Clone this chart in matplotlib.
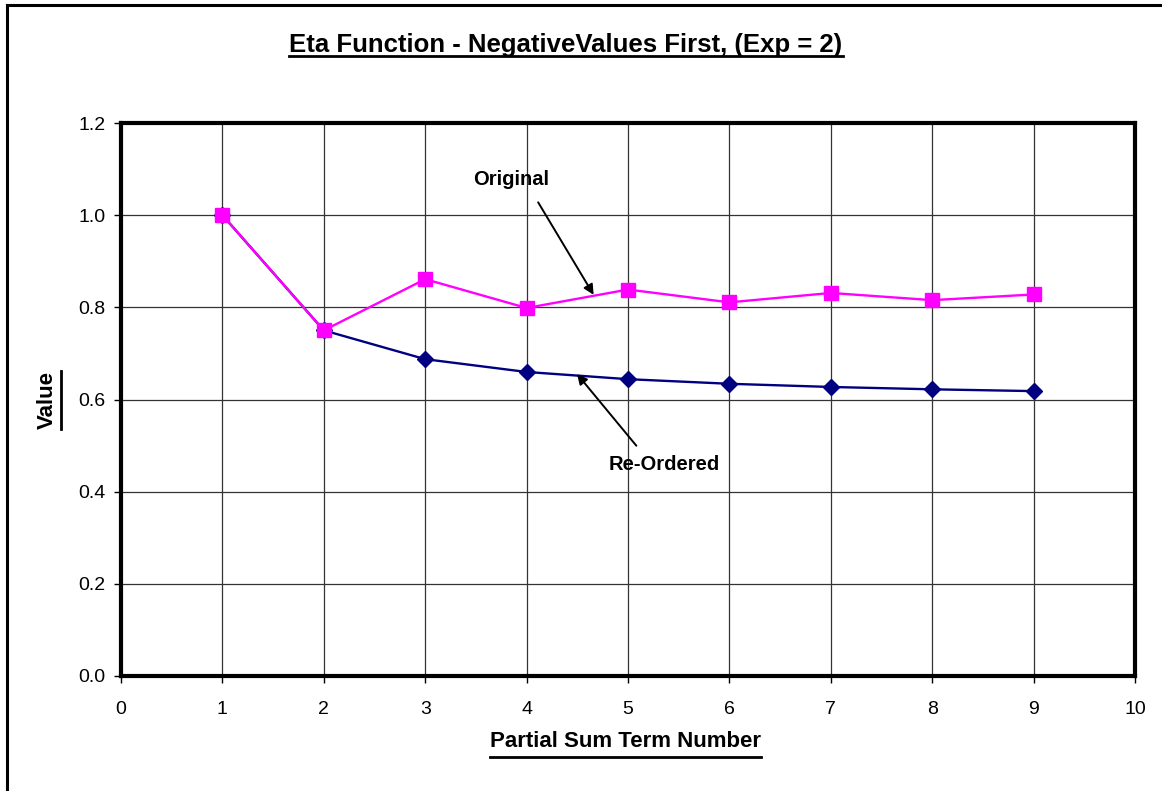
import matplotlib
matplotlib.use("Agg")
import matplotlib.pyplot as plt
from matplotlib.lines import Line2D

# Partial sums of the eta function with exponent 2
term_numbers = [1, 2, 3, 4, 5, 6, 7, 8, 9]
original = [1.0, 0.75, 0.8611, 0.7986, 0.8386, 0.8108, 0.8312, 0.8156, 0.8279]
reordered = [1.0, 0.75, 0.6875, 0.6597, 0.6441, 0.6341, 0.6272, 0.6221, 0.6182]

x_ticks = [0, 1, 2, 3, 4, 5, 6, 7, 8, 9, 10]
y_ticks = [0.0, 0.2, 0.4, 0.6, 0.8, 1.0, 1.2]

title_text = "Eta Function - NegativeValues First, (Exp = 2)"
xlabel_text = "Partial Sum Term Number"
ylabel_text = "Value"

plt.rcParams["font.family"] = ["Liberation Sans", "DejaVu Sans"]

W, H = 1162, 791
fig = plt.figure(figsize=(W / 100, H / 100), dpi=100)
ax = fig.add_axes([121 / W, 1 - 676 / H, (1135 - 121) / W, (676 - 123) / H])

ax.plot(term_numbers, reordered, color="#000080", lw=1.7, marker="D",
        markersize=8.5, markeredgecolor="#000080", markerfacecolor="#000080", zorder=3)
ax.plot(term_numbers, original, color="#FF00FF", lw=1.7, marker="s",
        markersize=10, markeredgecolor="#FF00FF", markerfacecolor="#FF00FF", zorder=4)

ax.set_xlim(0, 10)
ax.set_ylim(0, 1.2)
ax.set_xticks(x_ticks)
ax.set_yticks(y_ticks)
ax.set_yticklabels([f"{v:.1f}" for v in y_ticks])
ax.grid(True, color="#333333", lw=0.9)
ax.set_axisbelow(True)
for s in ax.spines.values():
    s.set_linewidth(3)
    s.set_color("black")
ax.tick_params(direction="out", length=5, width=1, labelsize=14, color="black")
ax.tick_params(axis="x", pad=13)
ax.tick_params(axis="y", pad=6)

# Annotations with arrows
ax.annotate("", xy=(4.675, 0.822), xytext=(4.10, 1.033),
            arrowprops=dict(arrowstyle="-|>", color="black", lw=1.4, mutation_scale=15))
ax.text(3.85, 1.077, "Original", ha="center", va="center", fontsize=14.5, fontweight="bold")
ax.annotate("", xy=(4.48, 0.660), xytext=(5.10, 0.495),
            arrowprops=dict(arrowstyle="-|>", color="black", lw=1.4, mutation_scale=15))
ax.text(5.36, 0.458, "Re-Ordered", ha="center", va="center", fontsize=14.5, fontweight="bold")

# Titles
t = fig.text(566 / W, 1 - 52 / H, title_text, ha="center", va="baseline",
             fontsize=18.5, fontweight="bold")
xl = fig.text(625 / W, 1 - 747 / H, xlabel_text, ha="center", va="baseline",
              fontsize=16, fontweight="bold")
yl = fig.text(47 / W, 1 - 400 / H, ylabel_text, ha="center", va="center",
              fontsize=16, fontweight="bold", rotation=90)

fig.canvas.draw()
r = fig.canvas.get_renderer()


def underline_h(txt, y_px):
    bb = txt.get_window_extent(r)
    y = 1 - y_px / H
    fig.add_artist(Line2D([bb.x0 / W, bb.x1 / W], [y, y], color="black", lw=2))


def underline_v(txt, x_px):
    bb = txt.get_window_extent(r)
    x = x_px / W
    fig.add_artist(Line2D([x, x], [bb.y0 / H, bb.y1 / H], color="black", lw=2))


underline_h(t, 56)
underline_h(xl, 757)
underline_v(yl, 61)

# Outer frame (left and top edges)
fig.add_artist(Line2D([7 / W, 7 / W], [0, 1 - 5 / H], color="black", lw=2.2))
fig.add_artist(Line2D([7 / W, 1], [1 - 5 / H, 1 - 5 / H], color="black", lw=2.2))

fig.savefig("out.png", dpi=100)
